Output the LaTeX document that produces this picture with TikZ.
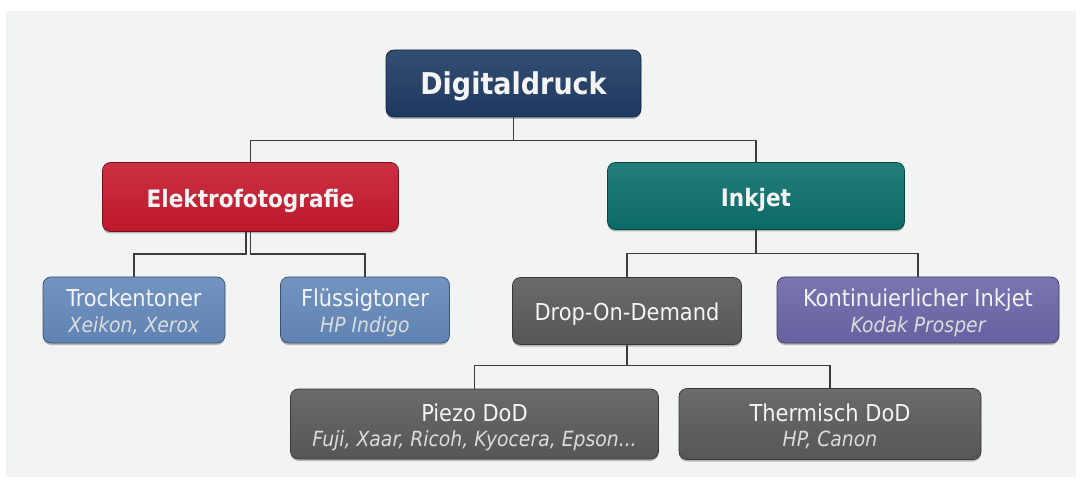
\documentclass[tikz,border=0pt]{standalone}
\usepackage{fontspec}
\setmainfont{DejaVu Sans Condensed}
\usetikzlibrary{shadows,calc}
\definecolor{cBg}{HTML}{F2F3F3}
\definecolor{cNavy}{HTML}{1E3A63}
\definecolor{cRed}{HTML}{C5192D}
\definecolor{cTeal}{HTML}{0C6F6B}
\definecolor{cSteel}{HTML}{6388BA}
\definecolor{cGrey}{HTML}{5A5A5A}
\definecolor{cPurple}{HTML}{6A66A8}
\definecolor{cLine}{HTML}{3C3C3C}
\definecolor{cTxt}{HTML}{F4F4F4}
\definecolor{cSub}{HTML}{DCDCDC}
\tikzset{
  box/.style={rounded corners=8pt, draw=#1!60!black, line width=0.7pt,
    top color=#1!90!white, bottom color=#1!96!black, inner sep=0pt,
    drop shadow={shadow xshift=0pt, shadow yshift=-2pt, opacity=0.25, fill=black}},
  conn/.style={draw=cLine, line width=1.5pt},
  hdr/.style={text=cTxt, anchor=base, inner sep=0pt, font=\fontsize{24}{28}\selectfont\bfseries},
  ttl/.style={text=cTxt, anchor=base, inner sep=0pt, font=\fontsize{23.3}{28}\selectfont},
  sub/.style={text=cSub, anchor=base, inner sep=0pt, font=\fontsize{20.9}{25}\selectfont\itshape}
}
\begin{document}
\begin{tikzpicture}[x=1pt,y=-1pt]
\useasboundingbox (0,0) rectangle (1085,481);
\fill[white] (0,0) rectangle (1085,481);
\fill[cBg] (6,11) rectangle (1076,477);

% boxes
\node[box=cNavy, minimum width=255pt, minimum height=67pt] (dig) at (513.5,83.5) {};
\node[box=cRed, minimum width=296pt, minimum height=69pt] (elek) at (250.5,197) {};
\node[box=cTeal, minimum width=297pt, minimum height=67pt] (ink) at (756,196) {};
\node[box=cSteel, minimum width=182pt, minimum height=66pt] (trock) at (134,310) {};
\node[box=cSteel, minimum width=169pt, minimum height=66pt] (fluss) at (365,310) {};
\node[box=cGrey, minimum width=229pt, minimum height=67pt] (dod) at (627,311) {};
\node[box=cPurple, minimum width=282pt, minimum height=66pt] (kont) at (918,310) {};
\node[box=cGrey, minimum width=368pt, minimum height=70pt] (piezo) at (474.5,424) {};
\node[box=cGrey, minimum width=302pt, minimum height=71pt] (therm) at (830,424) {};

% connectors
\coordinate (j1) at (513.5,140.5);
\draw[conn] (dig.south) -- (j1) -| (elek.north);
\draw[conn] (j1) -| (ink.north);
\coordinate (j2a) at (246,254);
\coordinate (j2b) at (250.5,254);
\draw[conn] (elek.south -| j2a) -- (j2a) -| (trock.north);
\draw[conn] (elek.south) -- (j2b) -| (fluss.north);
\coordinate (j3) at (756,253.5);
\draw[conn] (ink.south) -- (j3) -| (dod.north);
\draw[conn] (j3) -| (kont.north);
\coordinate (j4) at (627,365.5);
\draw[conn] (dod.south) -- (j4) -| (piezo.north);
\draw[conn] (j4) -| (therm.north);

% texts
\node[hdr, font=\fontsize{30}{34}\selectfont\bfseries] (dig-t) at ($(dig.center)+(0,11.5)$) {Digitaldruck};
\node[hdr] (elek-t) at ($(elek.center)+(0,11)$) {Elektrofotografie};
\node[hdr] (ink-t) at ($(ink.center)+(0,11)$) {Inkjet};
\node[ttl] (trock-t) at ($(trock.center)+(0,-4)$) {Trockentoner};
\node[sub] (trock-s) at ($(trock.center)+(0,22.5)$) {Xeikon, Xerox};
\node[ttl] (fluss-t) at ($(fluss.center)+(0,-4)$) {Flüssigtoner};
\node[sub] (fluss-s) at ($(fluss.center)+(0,22.5)$) {HP Indigo};
\node[ttl] (dod-t) at ($(dod.center)+(0,9.5)$) {Drop-On-Demand};
\node[ttl] (kont-t) at ($(kont.center)+(0,-3)$) {Kontinuierlicher Inkjet};
\node[sub] (kont-s) at ($(kont.center)+(0,22.5)$) {Kodak Prosper};
\node[ttl] (piezo-t) at ($(piezo.center)+(0,-3)$) {Piezo DoD};
\node[sub] (piezo-s) at ($(piezo.center)+(0,22.5)$) {Fuji, Xaar, Ricoh, Kyocera, Epson...};
\node[ttl] (therm-t) at ($(therm.center)+(0,-3)$) {Thermisch DoD};
\node[sub] (therm-s) at ($(therm.center)+(0,22.5)$) {HP, Canon};
\end{tikzpicture}
\end{document}
